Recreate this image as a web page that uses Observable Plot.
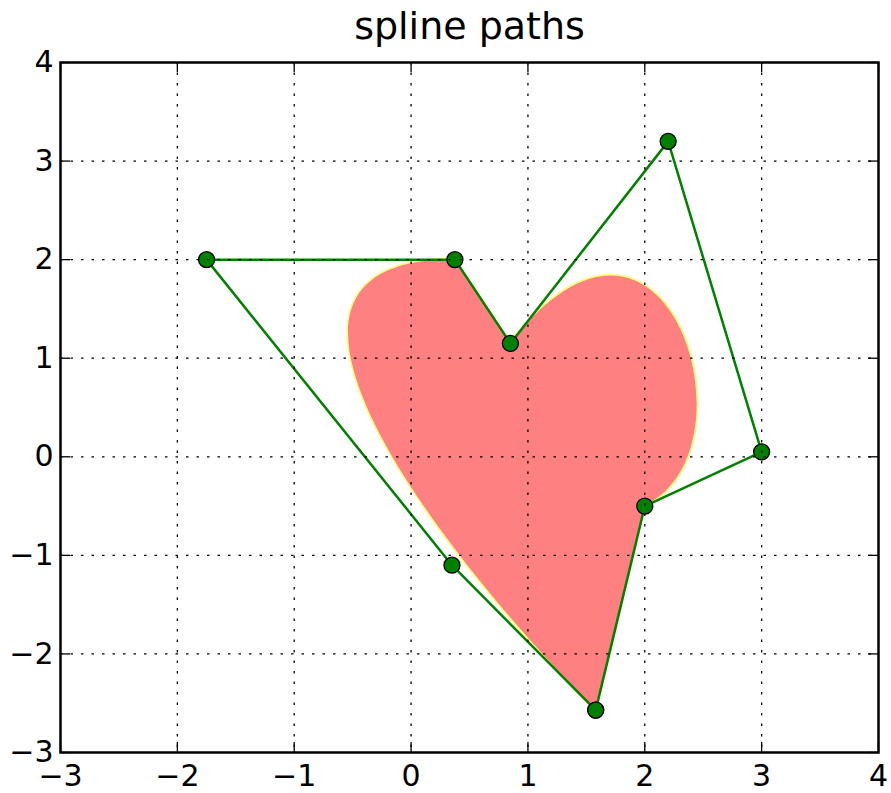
<!DOCTYPE html>
<html><head><meta charset="utf-8">
<script src="https://cdn.jsdelivr.net/npm/d3@7"></script>
<script src="https://cdn.jsdelivr.net/npm/@observablehq/plot@0.6"></script>
<style>body{margin:0;background:#fff}</style>
</head><body><div id="chart"></div>
<script>
const title = "spline paths";
const codes = ["M", "C", "C", "C", "L", "C", "C", "C", "Z"];
const xs = [1.58, 0.35, -1.75, 0.375, 0.85, 2.2, 3.0, 2.0, 1.58];
const ys = [-2.57, -1.1, 2.0, 2.0, 1.15, 3.2, 0.05, -0.5, -2.57];
const xTicks = [-3, -2, -1, 0, 1, 2, 3, 4];
const yTicks = [-3, -2, -1, 0, 1, 2, 3, 4];

const verts = codes.map((c, i) => ({code: c, x: xs[i], y: ys[i]}));

const W = 891, H = 793, mL = 60, mR = 13, mT = 62, mB = 41;
const frameW = W - mL - mR, frameH = H - mT - mB, tick = 10;
const fmt = d => (d < 0 ? "\u2212" : "") + Math.abs(d);

function splinePatch(index, scales) {
  const X = scales.x, Y = scales.y;
  let d = "", i = 0;
  while (i < verts.length) {
    const v = verts[i];
    if (v.code === "M") { d += `M${X(v.x)},${Y(v.y)}`; i++; }
    else if (v.code === "L") { d += `L${X(v.x)},${Y(v.y)}`; i++; }
    else if (v.code === "C") {
      const a = verts[i], b = verts[i + 1], c = verts[i + 2];
      d += `C${X(a.x)},${Y(a.y)} ${X(b.x)},${Y(b.y)} ${X(c.x)},${Y(c.y)}`;
      i += 3;
    } else { d += "Z"; i++; }
  }
  const p = document.createElementNS("http://www.w3.org/2000/svg", "path");
  p.setAttribute("d", d);
  p.setAttribute("fill", "#ff8080");
  p.setAttribute("stroke", "#ffff80");
  p.setAttribute("stroke-width", "3.5");
  p.setAttribute("paint-order", "stroke");
  return p;
}

const grid = {stroke: "#000", strokeWidth: 1.3, strokeDasharray: "2.5,8"};
const tk = {stroke: "#000", strokeWidth: 1.3};

const chart = Plot.plot({
  width: W, height: H,
  marginLeft: mL, marginRight: mR, marginTop: mT, marginBottom: mB,
  style: {fontFamily: "DejaVu Sans", background: "#fff", overflow: "visible"},
  x: {domain: [-3, 4], ticks: xTicks, label: null},
  y: {domain: [-3, 4], ticks: yTicks, label: null},
  marks: [
    splinePatch,
    Plot.line(verts, {x: "x", y: "y", stroke: "#008000", strokeWidth: 2.5}),
    Plot.dot(verts, {x: "x", y: "y", r: 8, fill: "#008000", stroke: "#000", strokeWidth: 1.3}),
    Plot.ruleX(xTicks.slice(1, -1), {x: d => d, ...grid}),
    Plot.ruleY(yTicks.slice(1, -1), {y: d => d, ...grid}),
    Plot.ruleX(xTicks, {x: d => d, insetTop: frameH - tick, ...tk}),
    Plot.ruleX(xTicks, {x: d => d, insetBottom: frameH - tick, ...tk}),
    Plot.ruleY(yTicks, {y: d => d, insetRight: frameW - tick, ...tk}),
    Plot.ruleY(yTicks, {y: d => d, insetLeft: frameW - tick, ...tk}),
    Plot.frame({stroke: "#000", strokeWidth: 2.5}),
    Plot.axisX(xTicks, {anchor: "bottom", tickSize: 0, tickPadding: 12, fontSize: 30, fill: "#000", tickFormat: fmt}),
    Plot.axisY(yTicks, {anchor: "left", tickSize: 0, tickPadding: 7, fontSize: 30, fill: "#000", tickFormat: fmt}),
    Plot.text([title], {text: d => d, frameAnchor: "top", lineAnchor: "middle", dy: -36, fontSize: 38, fill: "#000"})
  ]
});
document.getElementById("chart").appendChild(chart);
</script>
</body></html>
